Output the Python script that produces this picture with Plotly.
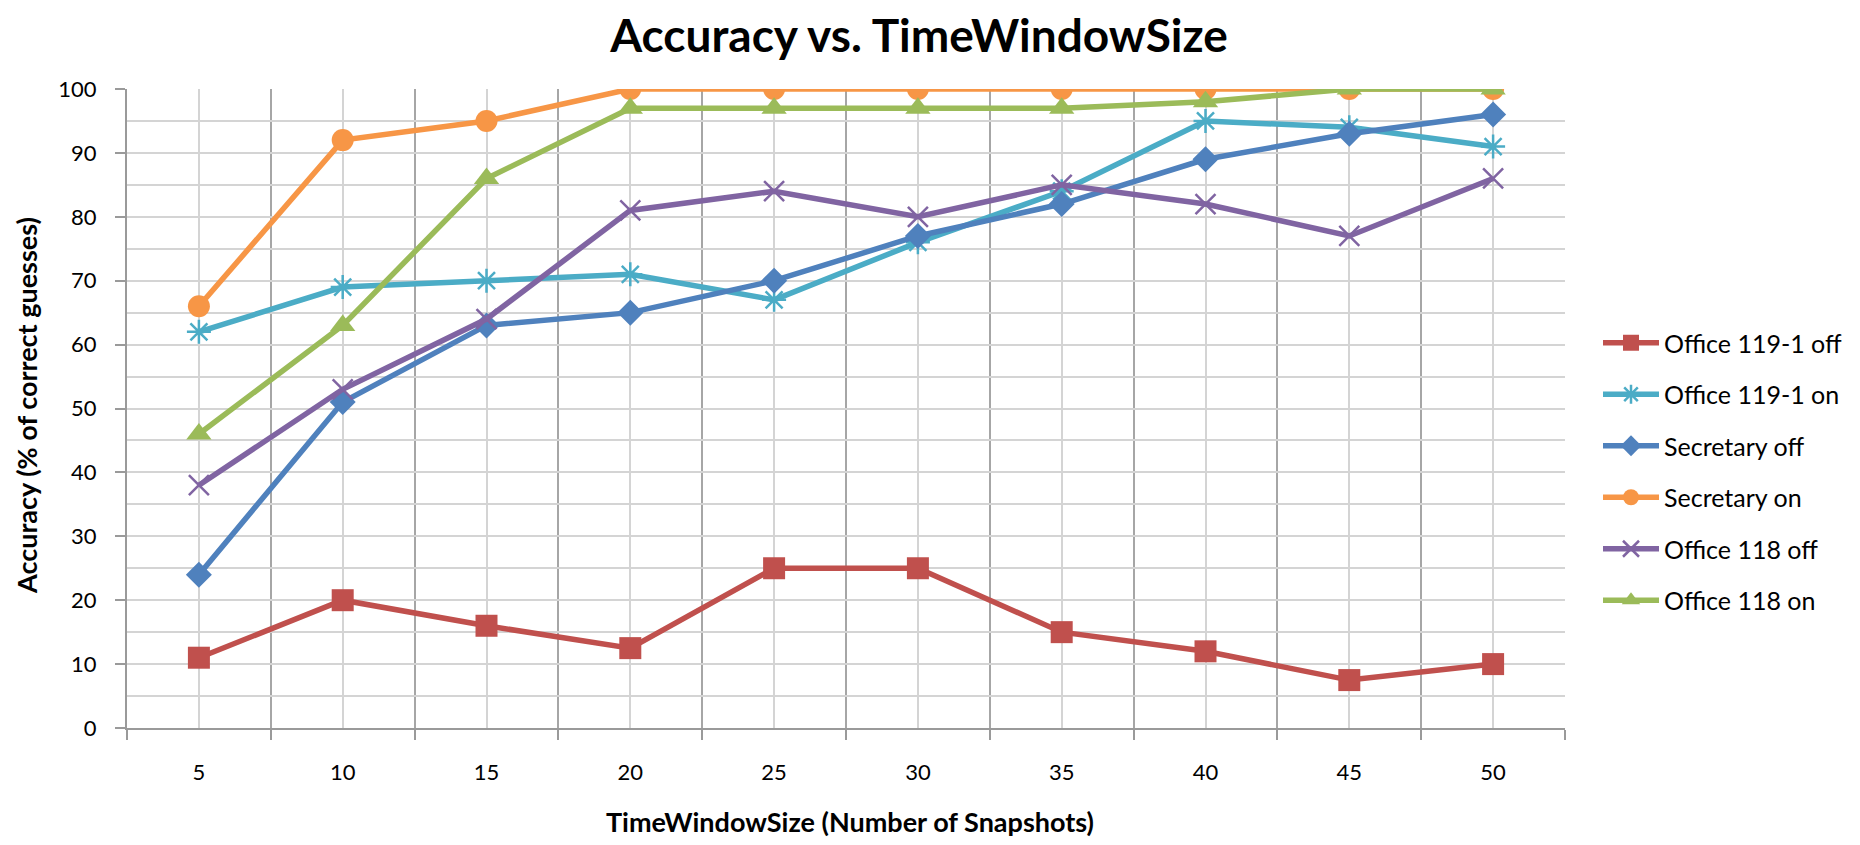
import plotly.graph_objects as go

window_sizes = [5, 10, 15, 20, 25, 30, 35, 40, 45, 50]

office_119_1_off = [11, 20, 16, 12.5, 25, 25, 15, 12, 7.5, 10]
office_119_1_on = [62, 69, 70, 71, 67, 76, 84, 95, 94, 91]
secretary_off = [24, 51, 63, 65, 70, 77, 82, 89, 93, 96]
secretary_on = [66, 92, 95, 100, 100, 100, 100, 100, 100, 100]
office_118_off = [38, 53, 64, 81, 84, 80, 85, 82, 77, 86]
office_118_on = [46, 63, 86, 97, 97, 97, 97, 98, 100, 100]

series_names = ["Office 119-1 off", "Office 119-1 on", "Secretary off",
                "Secretary on", "Office 118 off", "Office 118 on"]
series_values = [office_119_1_off, office_119_1_on, secretary_off,
                 secretary_on, office_118_off, office_118_on]
colors = ["#C0504D", "#4BACC6", "#4F81BD", "#F79646", "#8064A2", "#9BBB59"]
symbols = ["square", "asterisk-open", "diamond", "circle", "x-thin-open", "triangle-up"]
sizes = [22, 20, 20, 22, 20, 22]

FONT = "Lato"
W, H = 1852, 837          # page body has an 8px margin
L, T = 119, 81            # plot area left/top in figure px
R_EDGE, B_EDGE = 1557, 720
PW, PH = R_EDGE - L, B_EDGE - T

fig = go.Figure()
for name, vals, col, sym, sz in zip(series_names, series_values, colors, symbols, sizes):
    open_sym = sym.endswith("-open")
    fig.add_trace(go.Scatter(
        x=window_sizes, y=vals, name=name, mode="lines+markers",
        legendgroup=name,
        line=dict(color=col, width=5.5),
        marker=dict(symbol=sym, size=sz, color=col,
                    line=dict(color=col, width=2.5 if open_sym else 0)),
    ))

fig.update_layout(
    width=W, height=H,
    paper_bgcolor="white", plot_bgcolor="white",
    margin=dict(l=L, r=W - R_EDGE, t=T, b=H - B_EDGE, autoexpand=False),
    font=dict(family=FONT, color="#000000"),
    title=dict(text="<b>Accuracy vs. TimeWindowSize</b>", x=911 / W, xanchor="center",
               y=1 - 28 / H, yanchor="middle", yref="container",
               font=dict(size=46, family=FONT, color="#000")),
    showlegend=True,
    legend=dict(xref="container", yref="container",
                x=1590 / W, xanchor="left", y=1 - 312 / H, yanchor="top",
                font=dict(size=25, family=FONT, color="#000"),
                itemwidth=56,
                tracegroupgap=16, bgcolor="rgba(0,0,0,0)"),
    xaxis=dict(
        range=[2.5, 52.5], tickvals=window_sizes, ticktext=[str(v) for v in window_sizes],
        ticks="", showgrid=True, gridcolor="#d4d4d4", gridwidth=2,
        showline=True, linecolor="#9a9a9a", linewidth=2, mirror=False,
        tickfont=dict(size=22, family=FONT, color="#000"),
        ticklabelstandoff=24, zeroline=False,
        minor=dict(tick0=2.5, dtick=5, showgrid=True, gridcolor="#a6a6a6", gridwidth=2,
                   ticks="outside", ticklen=10, tickcolor="#9a9a9a", tickwidth=2),
    ),
    yaxis=dict(
        range=[0, 100], tick0=0, dtick=10, ticks="outside", ticklen=10,
        tickcolor="#9a9a9a", tickwidth=2,
        showgrid=True, gridcolor="#d4d4d4", gridwidth=2,
        showline=True, linecolor="#9a9a9a", linewidth=2,
        tickfont=dict(size=22, family=FONT, color="#000"),
        ticklabelstandoff=14, zeroline=False,
        minor=dict(dtick=5, showgrid=True, gridcolor="#d4d4d4", gridwidth=2),
    ),
    annotations=[
        dict(text="<b>Accuracy (% of correct guesses)</b>", xref="paper", yref="paper",
             x=(18 - L) / PW, y=(B_EDGE - 398) / PH, textangle=-90,
             xanchor="center", yanchor="middle", showarrow=False,
             font=dict(size=27, family=FONT, color="#000")),
        dict(text="<b>TimeWindowSize (Number of Snapshots)</b>", xref="paper", yref="paper",
             x=(842 - L) / PW, y=(B_EDGE - 813) / PH,
             xanchor="center", yanchor="middle", showarrow=False,
             font=dict(size=27, family=FONT, color="#000")),
    ],
)

fig.write_html("out.html")
